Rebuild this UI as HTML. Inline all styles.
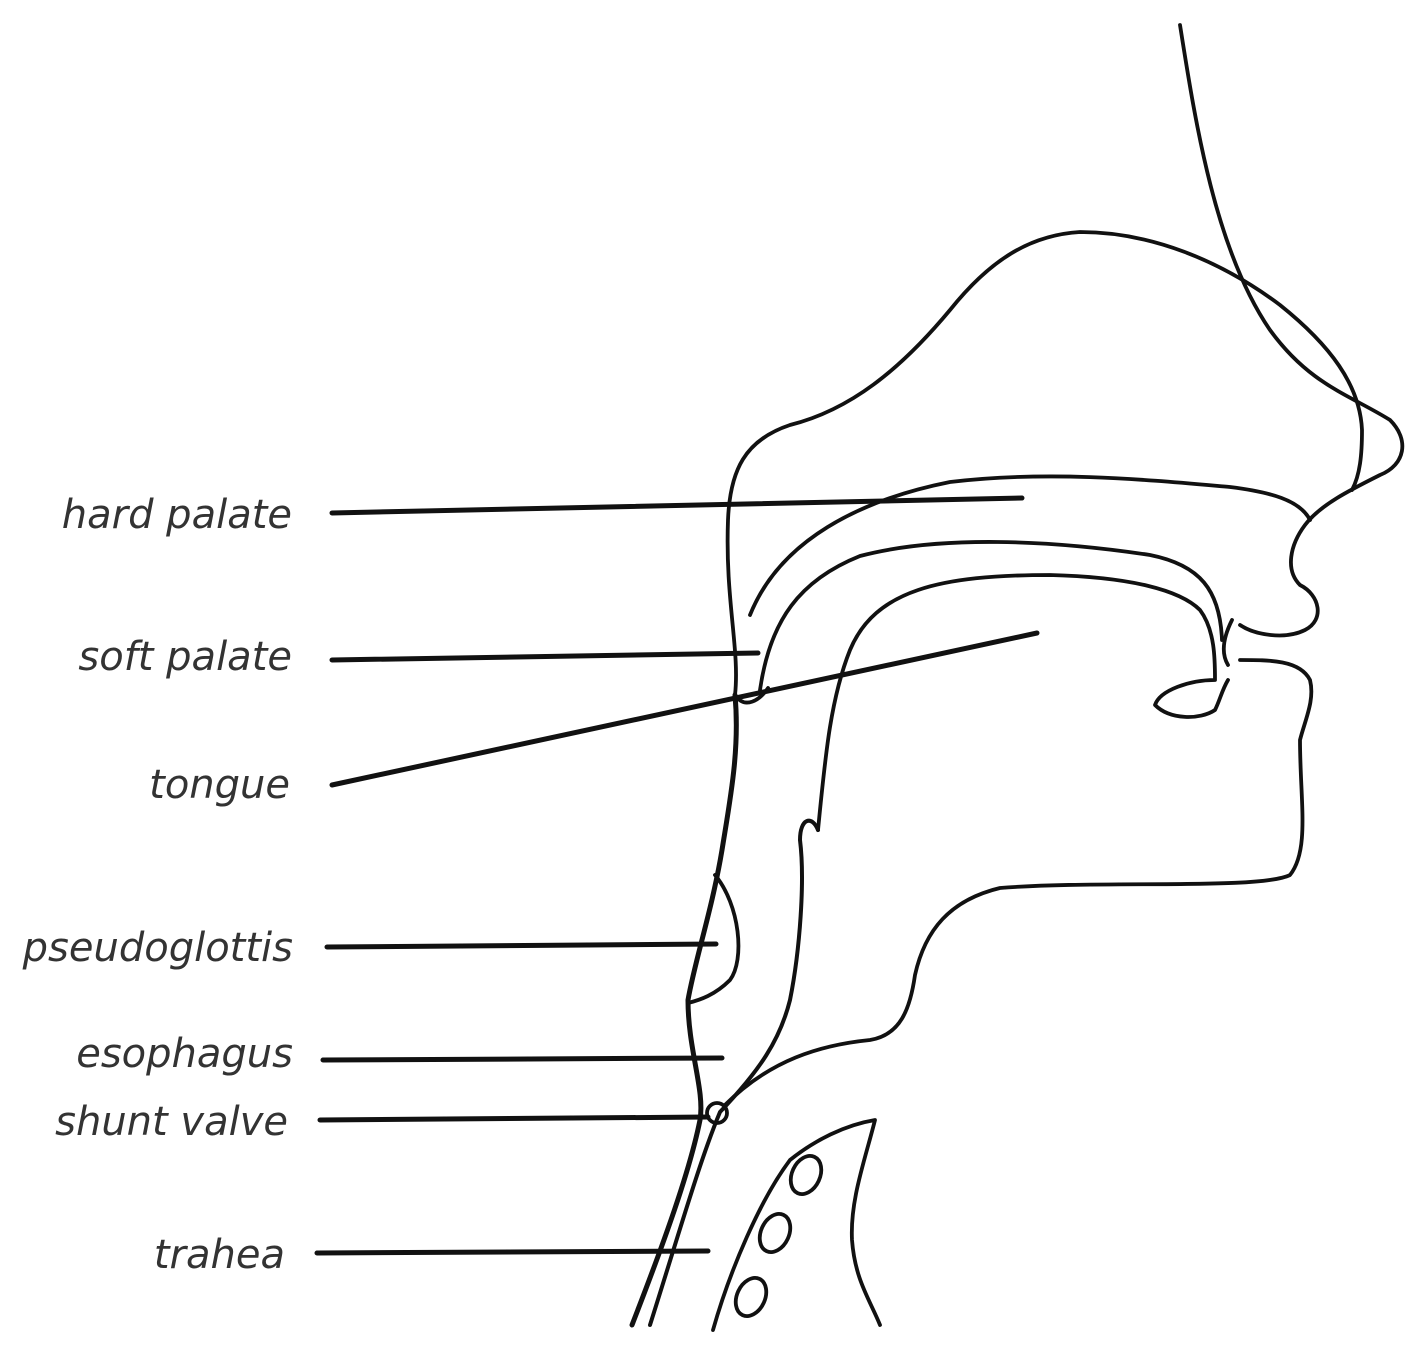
<!DOCTYPE html>
<html><head><meta charset="utf-8"><style>
html,body{margin:0;padding:0;background:#fff;}
svg{display:block}
text{font-family:"DejaVu Sans","Liberation Sans",sans-serif;font-style:italic;font-size:40px;fill:#333;}
</style></head><body>
<svg width="1425" height="1349" viewBox="0 0 1425 1349" xmlns="http://www.w3.org/2000/svg">
<g fill="none" stroke="#111" stroke-width="3.8" stroke-linecap="round" stroke-linejoin="round">
<path d="M1180,25 C1195,120 1215,250 1270,330 C1310,385 1350,395 1390,420 C1410,440 1405,465 1380,475 C1350,490 1320,505 1305,525 C1290,545 1285,570 1300,585 C1320,595 1325,620 1305,630 C1285,640 1255,635 1240,625"/>
<path d="M1232,620 C1222,640 1222,655 1228,665"/>
<path d="M1240,660 C1270,660 1300,660 1310,680 C1315,700 1305,720 1300,740 C1300,800 1310,850 1290,875 C1260,890 1100,880 1000,888 C950,900 925,930 915,975 C910,1010 900,1035 870,1040 C820,1045 770,1060 725,1105"/>
<path d="M735,695 C740,650 725,600 728,520 C730,470 745,440 790,425 C850,410 900,370 950,310 C990,260 1030,235 1080,232 C1150,232 1220,260 1280,305 C1330,345 1360,385 1362,430 C1362,455 1360,475 1352,490"/>
<path d="M750,615 C780,540 860,500 950,482 C1050,470 1150,480 1230,487 C1270,492 1300,500 1310,520"/>
<path d="M760,690 C770,620 800,580 860,556 C940,535 1050,540 1150,555 C1200,565 1220,590 1222,640"/>
<path d="M818,830 C825,760 830,700 850,650 C875,590 940,575 1050,575 C1130,577 1180,590 1200,610 C1215,630 1215,660 1215,680 C1190,680 1160,690 1155,705 C1170,720 1200,720 1215,710 C1220,700 1222,690 1228,680"/>
<path d="M735,695 C745,710 760,700 768,688"/>
<path d="M735,695 C740,750 730,800 722,850 C712,910 695,960 688,1000 C688,1050 705,1090 700,1120 C690,1170 665,1240 632,1325" stroke-width="5"/>
<path d="M818,830 C812,815 800,818 800,840 C805,880 800,950 790,1000 C780,1040 760,1070 720,1112 C700,1160 680,1230 650,1325" stroke-width="4"/>
<path d="M715,875 C740,905 745,960 730,980 C715,995 700,1000 688,1003"/>
<circle cx="717" cy="1113" r="10"/>
<path d="M713,1330 C730,1270 760,1200 790,1160 C815,1140 845,1125 875,1120 C865,1160 850,1200 852,1240 C855,1280 870,1300 880,1325"/>
<ellipse cx="806" cy="1175" rx="14" ry="20" transform="rotate(25 806 1175)"/>
<ellipse cx="775" cy="1233" rx="14" ry="20" transform="rotate(25 775 1233)"/>
<ellipse cx="751" cy="1297" rx="14" ry="20" transform="rotate(25 751 1297)"/>
</g>
<g stroke="#111" stroke-width="5" stroke-linecap="round">
<line x1="332" y1="513" x2="1022" y2="498"/>
<line x1="332" y1="660" x2="758" y2="653"/>
<line x1="332" y1="785" x2="1037" y2="633"/>
<line x1="327" y1="947" x2="716" y2="944"/>
<line x1="323" y1="1060" x2="722" y2="1058"/>
<line x1="320" y1="1120" x2="708" y2="1117"/>
<line x1="317" y1="1253" x2="708" y2="1251"/>
</g>
<g text-anchor="end">
<text x="292" y="528">hard palate</text>
<text x="292" y="670">soft palate</text>
<text x="290" y="798">tongue</text>
<text x="293" y="961">pseudoglottis</text>
<text x="293" y="1067">esophagus</text>
<text x="288" y="1135">shunt valve</text>
<text x="285" y="1268">trahea</text>
</g>
</svg>
</body></html>
